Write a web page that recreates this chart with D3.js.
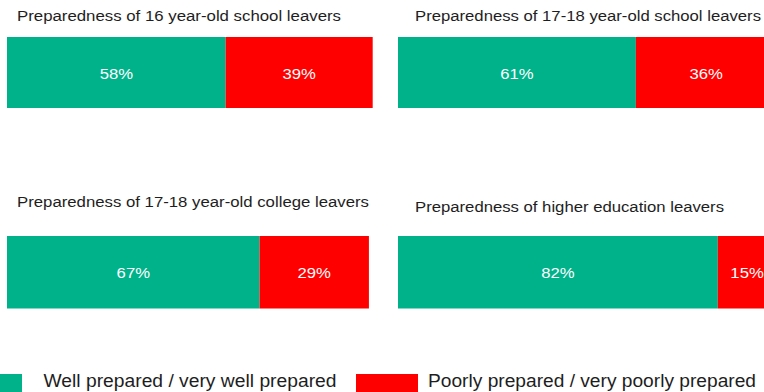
<!DOCTYPE html>
<html>
<head>
<meta charset="utf-8">
<script src="https://cdn.jsdelivr.net/npm/d3@7/dist/d3.min.js"></script>
<style>
  html, body { margin: 0; padding: 0; background: #fff; overflow: hidden; }
  svg { display: block; font-family: "Liberation Sans", Arial, sans-serif; }
</style>
</head>
<body>
<script>
// Survey results: how well prepared leavers are, by stage of education
const panelTitles = [
  "Preparedness of 16 year-old school leavers",
  "Preparedness of 17-18 year-old school leavers",
  "Preparedness of 17-18 year-old college leavers",
  "Preparedness of higher education leavers"
];
const wellPrepared   = [58, 61, 67, 82];
const poorlyPrepared = [39, 36, 29, 15];
const seriesNames  = ["Well prepared / very well prepared", "Poorly prepared / very poorly prepared"];
const seriesColors = ["#00b28a", "#ff0000"];

const W = 764, H = 392;
const TEXT_STRETCH = 1.075;

// Panel geometry (left column / right column, top row / bottom row)
const panelLayout = [
  { range: [7, 384],   barY: 37,  barH: 71,   titleX: 17,  titleY: 21,  titleW: 324 },
  { range: [398, 788], barY: 37,  barH: 71,   titleX: 415, titleY: 21,  titleW: 346 },
  { range: [7, 384],   barY: 236, barH: 72.5, titleX: 17,  titleY: 207, titleW: 352 },
  { range: [398, 788], barY: 236, barH: 72.5, titleX: 415, titleY: 212, titleW: 309 }
];

const svg = d3.select("body").append("svg")
  .attr("width", W).attr("height", H);

function stretch(sel) {
  sel.each(function () {
    const n = this.getComputedTextLength();
    d3.select(this).attr("textLength", n * TEXT_STRETCH).attr("lengthAdjust", "spacingAndGlyphs");
  });
}

panelTitles.forEach((title, i) => {
  const L = panelLayout[i];
  const x = d3.scaleLinear().domain([0, 100]).range(L.range);
  const g = svg.append("g");

  g.append("text")
    .attr("x", L.titleX).attr("y", L.titleY)
    .attr("font-size", 15.5).attr("fill", "#1e1e1e")
    .attr("textLength", L.titleW).attr("lengthAdjust", "spacingAndGlyphs")
    .text(title);

  const segs = [
    { start: 0, value: wellPrepared[i], color: seriesColors[0] },
    { start: wellPrepared[i], value: poorlyPrepared[i], color: seriesColors[1] }
  ];

  g.selectAll("rect.seg").data(segs).join("rect")
    .attr("class", "seg")
    .attr("x", d => x(d.start))
    .attr("width", d => x(d.start + d.value) - x(d.start))
    .attr("y", L.barY).attr("height", L.barH)
    .attr("fill", d => d.color);

  g.selectAll("text.val").data(segs).join("text")
    .attr("class", "val")
    .attr("x", d => (x(d.start) + x(d.start + d.value)) / 2)
    .attr("y", L.barY + L.barH / 2 + 6)
    .attr("text-anchor", "middle")
    .attr("font-size", 15.5).attr("fill", "#fff")
    .text(d => d.value + "%")
    .call(stretch);
});

// Legend
const legendLayout = [
  { rx: 0,   rw: 22, tx: 43.5, tw: 293 },
  { rx: 356, rw: 62, tx: 428,  tw: 328 }
];
const lg = svg.append("g");
seriesNames.forEach((name, i) => {
  const L = legendLayout[i];
  lg.append("rect")
    .attr("x", L.rx).attr("y", 374).attr("width", L.rw).attr("height", 20)
    .attr("fill", seriesColors[i]);
  lg.append("text")
    .attr("x", L.tx).attr("y", 386.5)
    .attr("font-size", 17.5).attr("fill", "#1e1e1e")
    .attr("textLength", L.tw).attr("lengthAdjust", "spacingAndGlyphs")
    .text(name);
});
</script>
</body>
</html>
